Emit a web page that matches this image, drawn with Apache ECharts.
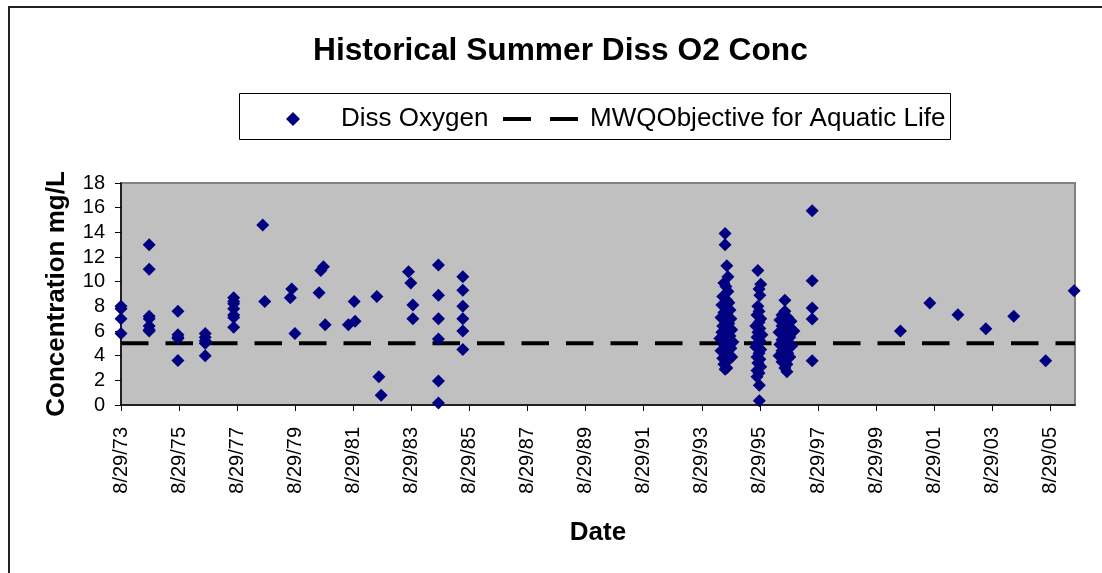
<!DOCTYPE html>
<html><head><meta charset="utf-8">
<script src="https://cdn.jsdelivr.net/npm/echarts@6/dist/echarts.min.js"></script>
<style>html,body{margin:0;padding:0;background:#fff}#c{width:1102px;height:573px}</style>
</head><body><div id="c"></div>
<script>
// ---- data ----
const titleText = 'Historical Summer Diss O2 Conc';
const xAxisTitle = 'Date';
const yAxisTitle = 'Concentration mg/L';
const seriesNames = ['Diss Oxygen', 'MWQObjective for Aquatic Life'];
// x ticks every 2 years starting 8/29/73 (x values below are years elapsed since 8/29/73)
const xTickLabels = ['8/29/73','8/29/75','8/29/77','8/29/79','8/29/81','8/29/83','8/29/85','8/29/87',
  '8/29/89','8/29/91','8/29/93','8/29/95','8/29/97','8/29/99','8/29/01','8/29/03','8/29/05'];
const yTickValues = [0,2,4,6,8,10,12,14,16,18];
const xAxisMax = 32.85;

// Dissolved oxygen samples: years since 8/29/73, concentration mg/L
const doYears = [
  0.00,0.00,0.00,0.00,
  0.97,0.97,0.97,0.97,0.97,0.97,0.97,
  1.96,1.96,1.96,1.96,1.96,
  2.90,2.90,2.90,2.90,2.90,
  3.88,3.88,3.88,3.88,3.88,3.88,3.88,
  4.88,4.95,
  5.88,5.83,5.99,
  6.82,6.88,6.97,7.03,
  7.83,8.06,8.03,
  8.81,8.88,8.96,
  9.90,9.98,10.05,10.05,
  10.93,10.93,10.93,10.93,10.93,10.93,
  11.77,11.77,11.77,11.77,11.77,11.77,
  // summer 1994
  20.80,20.80,20.86,20.90,20.76,20.83,20.90,20.72,20.86,20.93,20.69,20.80,20.97,20.76,20.86,20.66,
  21.00,20.80,20.93,20.72,20.86,21.03,20.69,20.80,20.97,20.62,20.90,21.07,20.76,20.86,21.00,20.66,
  20.80,20.97,20.72,20.90,21.03,20.76,20.86,20.80,
  // summer 1995
  21.93,22.03,21.97,22.00,21.93,21.97,21.90,22.03,21.97,21.86,22.00,21.93,22.07,21.90,22.00,21.93,
  21.86,22.03,21.97,21.90,22.00,21.93,22.03,21.90,21.97,21.90,21.98,21.98,
  // summer 1996
  22.86,22.86,22.76,22.96,22.69,23.07,22.86,22.76,22.96,23.17,22.66,22.86,23.03,22.76,22.93,22.69,
  23.10,22.86,22.76,22.96,22.66,23.03,22.86,22.76,22.93,22.86,22.93,
  // 1997
  23.80,23.80,23.80,23.80,23.80,
  // 2000-2006
  26.84,27.85,28.82,29.78,30.74,31.84,32.82
];
const doConc = [
  8.0,7.8,7.0,5.8,
  13.0,11.0,7.2,7.0,6.4,6.1,6.0,
  7.6,5.7,5.5,5.4,3.6,
  5.8,5.5,5.2,5.0,4.0,
  8.7,8.4,8.2,7.8,7.3,7.1,6.3,
  14.6,8.4,
  9.4,8.7,5.8,
  9.1,10.9,11.2,6.5,
  6.5,6.8,8.4,
  8.8,2.3,0.8,
  10.8,9.9,8.1,7.0,
  11.35,8.9,7.0,5.35,1.95,0.16,
  10.4,9.3,8.0,7.0,6.0,4.5,
  // summer 1994
  13.9,13.0,11.3,10.4,9.9,9.6,9.2,8.8,8.5,8.3,8.1,7.9,7.7,7.5,7.3,7.1,
  7.0,6.8,6.6,6.4,6.2,6.1,5.9,5.7,5.6,5.4,5.2,5.1,4.9,4.7,4.6,4.4,
  4.2,4.0,3.8,3.6,3.9,3.3,3.0,2.9,
  // summer 1995
  10.9,9.8,9.4,8.9,8.0,7.6,7.3,7.0,6.7,6.4,6.2,5.9,5.7,5.5,5.2,5.0,
  4.7,4.5,4.2,3.9,3.7,3.4,3.1,2.8,2.6,2.3,1.6,0.35,
  // summer 1996
  8.5,7.6,7.3,7.1,6.9,6.8,6.6,6.4,6.2,6.0,5.9,5.7,5.5,5.3,5.1,4.9,
  4.8,4.6,4.4,4.2,4.0,3.9,3.7,3.5,3.3,3.0,2.7,
  // 1997
  15.76,10.08,7.86,6.97,3.59,
  // 2000-2006
  6.0,8.27,7.32,6.19,7.19,3.59,9.27
];
// MWQ objective for aquatic life
const objectiveYears = [0, 32.85];
const objectiveConc = [5, 5];

// ---- chart ----
const FONT = '"Liberation Sans", Arial, sans-serif';
const xTickValues = xTickLabels.map((_, i) => i * 2);
const chart = echarts.init(document.getElementById('c'), null, {renderer: 'canvas'});
chart.setOption({
  animation: false,
  backgroundColor: '#ffffff',
  textStyle: {fontFamily: FONT, color: '#000'},
  graphic: [
    {type: 'rect', z: -10, shape: {x: 9, y: 7, width: 1200, height: 700},
     style: {fill: '#ffffff', stroke: '#222', lineWidth: 2}},
    {type: 'rect', z: -5, shape: {x: 239.5, y: 93.5, width: 711, height: 46},
     style: {fill: '#ffffff', stroke: '#000', lineWidth: 1}}
  ],
  title: {
    text: titleText, left: 313, top: 35, padding: 0,
    textStyle: {fontFamily: FONT, fontSize: 31.7, fontWeight: 'bold', color: '#000'}
  },
  legend: [
    {
      data: [{name: seriesNames[0], icon: 'diamond'}],
      left: 286, top: 105, padding: 0, itemWidth: 14, itemHeight: 14, selectedMode: false,
      itemStyle: {color: '#000080'},
      textStyle: {fontFamily: FONT, fontSize: 26, color: '#000', padding: [0, 0, 0, 36], lineHeight: 28}
    },
    {
      data: [{name: seriesNames[1]}],
      left: 501, top: 105, padding: 0, itemWidth: 75, itemHeight: 14, selectedMode: false,
      itemStyle: {opacity: 0, borderWidth: 0},
      lineStyle: {width: 4, type: [28, 19], color: '#000', opacity: 1},
      textStyle: {fontFamily: FONT, fontSize: 26, color: '#000', padding: [0, 0, 0, 7], lineHeight: 28}
    }
  ],
  grid: {
    left: 121, right: 27, top: 183, bottom: 168, containLabel: false,
    show: true, backgroundColor: '#c0c0c0', borderColor: '#808080', borderWidth: 2
  },
  xAxis: {
    type: 'value', min: 0, max: xAxisMax, interval: 2,
    name: xAxisTitle, nameLocation: 'middle', nameGap: 115,
    nameTextStyle: {fontFamily: FONT, fontSize: 26, fontWeight: 'bold', color: '#000'},
    axisLine: {show: true, onZero: false, lineStyle: {color: '#000', width: 1.5}},
    axisTick: {show: true, length: 6, customValues: xTickValues, lineStyle: {color: '#000'}},
    axisLabel: {
      customValues: xTickValues, rotate: 90, margin: 22,
      fontFamily: FONT, fontSize: 20, color: '#000',
      formatter: v => xTickLabels[Math.round(v / 2)]
    },
    splitLine: {show: false}
  },
  yAxis: {
    type: 'value', min: 0, max: 18, interval: 2,
    name: yAxisTitle, nameLocation: 'middle', nameGap: 51, nameRotate: 90,
    nameTextStyle: {fontFamily: FONT, fontSize: 26, fontWeight: 'bold', color: '#000'},
    axisLine: {show: true, lineStyle: {color: '#000', width: 1.5}},
    axisTick: {show: true, length: 6, customValues: yTickValues, lineStyle: {color: '#000'}},
    axisLabel: {customValues: yTickValues, margin: 16, fontFamily: FONT, fontSize: 20, color: '#000'},
    splitLine: {show: false}
  },
  series: [
    {
      name: seriesNames[1], type: 'line', z: 2, silent: true,
      symbol: 'none', showSymbol: false,
      data: objectiveYears.map((x, i) => [x, objectiveConc[i]]),
      lineStyle: {color: '#000', width: 4, type: [27.5, 17], cap: 'butt'},
      emphasis: {disabled: true}
    },
    {
      name: seriesNames[0], type: 'scatter', z: 3,
      symbol: 'diamond', symbolSize: 13,
      data: doYears.map((x, i) => [x, doConc[i]]),
      itemStyle: {color: '#000080', opacity: 1},
      emphasis: {disabled: true}
    }
  ]
});
</script>
</body></html>
